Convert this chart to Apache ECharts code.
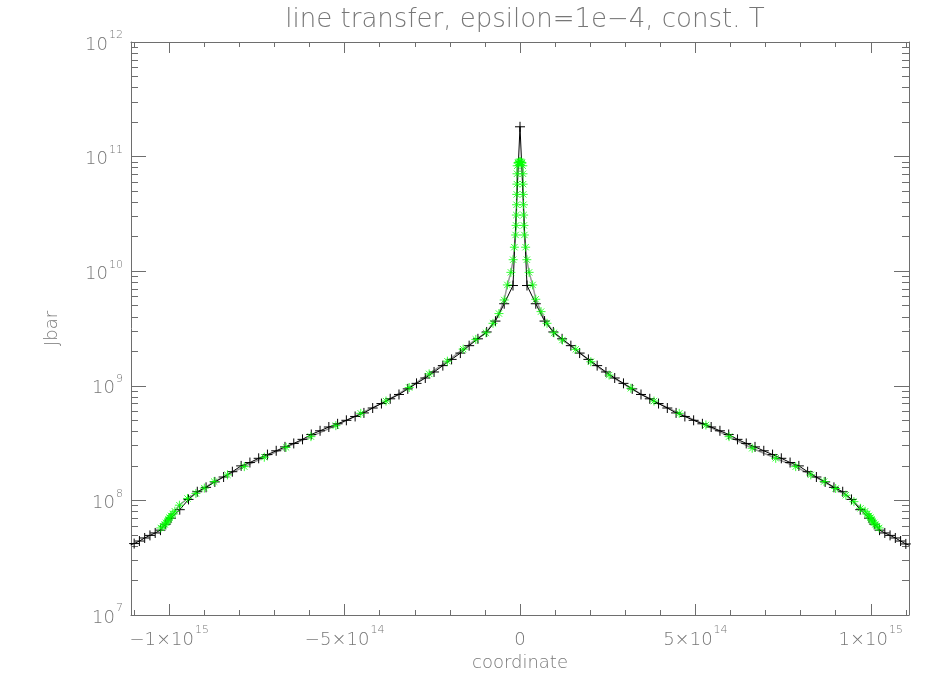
<!DOCTYPE html>
<html>
<head>
<meta charset="utf-8">
<script src="https://cdn.jsdelivr.net/npm/echarts@6/dist/echarts.min.js"></script>
<style>
  html, body { margin: 0; padding: 0; background: #fff; }
  #chart { width: 950px; height: 700px; }
</style>
</head>
<body>
<div id="chart"></div>
<script>
// black '+' curve
var blackX = [
  -11.1e14, -11.0e14, -10.85e14, -10.7e14, -10.55e14, -10.4e14, -10.25e14, -10.1e14,
  -9.95e14, -9.7e14, -9.45e14, -9.2e14, -8.95e14, -8.7e14, -8.45e14, -8.2e14,
  -7.95e14, -7.7e14, -7.45e14, -7.2e14, -6.95e14, -6.7e14, -6.45e14, -6.2e14,
  -5.95e14, -5.7e14, -5.45e14, -5.2e14, -4.95e14, -4.7e14, -4.45e14, -4.2e14,
  -3.95e14, -3.7e14, -3.45e14, -3.2e14, -2.95e14, -2.7e14, -2.45e14, -2.2e14,
  -1.95e14, -1.7e14, -1.45e14, -1.2e14, -0.95e14, -0.7e14, -0.45e14, -0.2e14,
  0,
  0.2e14, 0.45e14, 0.7e14, 0.95e14, 1.2e14, 1.45e14, 1.7e14, 1.95e14,
  2.2e14, 2.45e14, 2.7e14, 2.95e14, 3.2e14, 3.45e14, 3.7e14, 3.95e14,
  4.2e14, 4.45e14, 4.7e14, 4.95e14, 5.2e14, 5.45e14, 5.7e14, 5.95e14,
  6.2e14, 6.45e14, 6.7e14, 6.95e14, 7.2e14, 7.45e14, 7.7e14, 7.95e14,
  8.2e14, 8.45e14, 8.7e14, 8.95e14, 9.2e14, 9.45e14, 9.7e14, 9.95e14,
  10.1e14, 10.25e14, 10.4e14, 10.55e14, 10.7e14, 10.85e14, 11.0e14, 11.1e14
];
var blackY = [
  4.1e7, 4.2e7, 4.42e7, 4.7e7, 4.95e7, 5.2e7, 5.5e7, 6.2e7,
  7.0e7, 8.3e7, 1.02e8, 1.19e8, 1.3e8, 1.45e8, 1.6e8, 1.78e8,
  2.0e8, 2.14e8, 2.33e8, 2.51e8, 2.71e8, 2.93e8, 3.14e8, 3.41e8,
  3.76e8, 4.05e8, 4.37e8, 4.66e8, 5.0e8, 5.4e8, 5.8e8, 6.4e8,
  7.0e8, 7.7e8, 8.4e8, 9.4e8, 1.05e9, 1.17e9, 1.32e9, 1.5e9,
  1.7e9, 1.93e9, 2.24e9, 2.57e9, 2.95e9, 3.67e9, 5.2e9, 7.5e9,
  1.82e11,
  7.5e9, 5.2e9, 3.67e9, 2.95e9, 2.57e9, 2.24e9, 1.93e9, 1.7e9,
  1.5e9, 1.32e9, 1.17e9, 1.05e9, 9.4e8, 8.4e8, 7.7e8, 7.0e8,
  6.4e8, 5.8e8, 5.4e8, 5.0e8, 4.66e8, 4.37e8, 4.05e8, 3.76e8,
  3.41e8, 3.14e8, 2.93e8, 2.71e8, 2.51e8, 2.33e8, 2.14e8, 2.0e8,
  1.78e8, 1.6e8, 1.45e8, 1.3e8, 1.19e8, 1.02e8, 8.3e7, 7.0e7,
  6.2e7, 5.5e7, 5.2e7, 4.95e7, 4.7e7, 4.42e7, 4.17e7, 4.06e7
];

// green '*' points (joined by a grey line)
var greenX = [
  -10.24e14, -10.18e14, -10.13e14, -10.09e14, -10.05e14, -10.02e14, -9.99e14, -9.95e14,
  -9.90e14, -9.84e14, -9.71e14, -9.48e14, -9.24e14, -9.00e14, -8.72e14, -8.34e14,
  -7.86e14, -7.29e14, -6.67e14, -5.96e14, -5.25e14, -4.54e14, -3.82e14, -3.16e14,
  -2.59e14, -2.07e14, -1.62e14, -1.26e14, -0.97e14, -0.77e14, -0.60e14, -0.45e14,
  -0.36e14, -0.26e14, -0.195e14, -0.16e14, -0.125e14, -0.112e14, -0.104e14, -0.098e14,
  -0.093e14, -0.089e14, -0.085e14, -0.08e14, -0.06e14, -0.04e14, -0.02e14,
  0,
  0.02e14, 0.04e14, 0.06e14, 0.08e14, 0.085e14, 0.089e14, 0.093e14, 0.098e14,
  0.104e14, 0.112e14, 0.125e14, 0.16e14, 0.195e14, 0.26e14, 0.36e14, 0.45e14,
  0.60e14, 0.77e14, 0.97e14, 1.21e14, 1.59e14, 2.02e14, 2.54e14, 3.16e14,
  3.82e14, 4.54e14, 5.30e14, 5.96e14, 6.62e14, 7.29e14, 7.86e14, 8.29e14,
  8.67e14, 9.00e14, 9.29e14, 9.52e14, 9.71e14, 9.84e14, 9.90e14, 9.95e14,
  9.99e14, 10.02e14, 10.05e14, 10.09e14, 10.13e14, 10.18e14, 10.24e14
];
var greenY = [
  5.75e7, 5.96e7, 6.17e7, 6.38e7, 6.61e7, 6.84e7, 7.08e7, 7.33e7,
  7.59e7, 8.04e7, 9.08e7, 1.04e8, 1.15e8, 1.28e8, 1.46e8, 1.67e8,
  1.97e8, 2.38e8, 2.90e8, 3.60e8, 4.49e8, 5.75e8, 7.36e8, 9.66e8,
  1.27e9, 1.64e9, 2.09e9, 2.54e9, 2.90e9, 3.51e9, 4.27e9, 5.61e9,
  7.59e9, 9.77e9, 1.26e10, 1.62e10, 2.07e10, 2.51e10, 3.09e10, 3.80e10,
  4.68e10, 5.75e10, 7.08e10, 8.32e10, 8.81e10, 8.9e10, 9.0e10,
  9.0e10,
  9.0e10, 8.9e10, 8.81e10, 8.32e10, 7.08e10, 5.75e10, 4.68e10, 3.80e10,
  3.09e10, 2.51e10, 2.07e10, 1.62e10, 1.26e10, 9.77e9, 7.59e9, 5.69e9,
  4.44e9, 3.51e9, 2.90e9, 2.51e9, 2.08e9, 1.62e9, 1.24e9, 9.51e8,
  7.36e8, 5.75e8, 4.55e8, 3.60e8, 2.85e8, 2.33e8, 1.97e8, 1.67e8,
  1.46e8, 1.27e8, 1.11e8, 9.75e7, 8.53e7, 8.04e7, 7.59e7, 7.33e7,
  7.08e7, 6.84e7, 6.61e7, 6.38e7, 6.17e7, 5.96e7, 5.75e7
];

// ticks
var xMajor = [-1e15, -5e14, 0, 5e14, 1e15];
var xMinor = [-1.1e15, -9e14, -8e14, -7e14, -6e14, -4e14, -3e14, -2e14, -1e14,
  1e14, 2e14, 3e14, 4e14, 6e14, 7e14, 8e14, 9e14, 1.1e15];
var yMajor = [1e7, 1e8, 1e9, 1e10, 1e11, 1e12];
var yMinor = [
  2e7, 3e7, 4e7, 5e7, 6e7, 7e7, 8e7, 9e7,
  2e8, 3e8, 4e8, 5e8, 6e8, 7e8, 8e8, 9e8,
  2e9, 3e9, 4e9, 5e9, 6e9, 7e9, 8e9, 9e9,
  2e10, 3e10, 4e10, 5e10, 6e10, 7e10, 8e10, 9e10,
  2e11, 3e11, 4e11, 5e11, 6e11, 7e11, 8e11, 9e11
];

var textColor = '#777777';
var axisColor = '#6e6e6e';
var fontFamily = 'DejaVu Sans';
var xMin = -1.109e15, xMax = 1.109e15;

var rich = {
  b: { fontSize: 18, color: textColor, fontFamily: fontFamily, fontWeight: 200, lineHeight: 24, verticalAlign: 'bottom' },
  s: { fontSize: 11, color: textColor, fontFamily: fontFamily, fontWeight: 200, lineHeight: 24, verticalAlign: 'top', padding: [0, 0, 0, 1] }
};

function xLabel(v) {
  if (v === 0) return '{b|0}';
  var e = Math.floor(Math.log10(Math.abs(v)) + 1e-9);
  var m = Math.round(v / Math.pow(10, e));
  return '{b|' + (m < 0 ? '\u2212' : '') + Math.abs(m) + '\u00d710}{s|' + e + '}';
}
function yLabel(v) {
  return '{b|10}{s|' + Math.round(Math.log10(v)) + '}';
}

function xAxisOf(pos, ticks, len, withLabel, withLine) {
  return {
    type: 'value', position: pos, min: xMin, max: xMax,
    splitLine: { show: false },
    axisLine: { show: withLine, onZero: false, lineStyle: { color: axisColor, width: 1 } },
    axisTick: { show: true, inside: true, length: len, customValues: ticks, lineStyle: { color: axisColor } },
    axisLabel: withLabel ? { show: true, customValues: ticks, formatter: xLabel, rich: rich, margin: 10 } : { show: false },
    name: withLabel ? 'coordinate' : '',
    nameLocation: 'middle', nameGap: 38,
    nameTextStyle: { color: textColor, fontSize: 18, fontWeight: 200, fontFamily: fontFamily }
  };
}
function yAxisOf(pos, ticks, len, withLabel, withLine) {
  return {
    type: 'log', logBase: 10, position: pos, min: 1e7, max: 1e12,
    splitLine: { show: false },
    minorTick: { show: false },
    axisLine: { show: withLine, onZero: false, lineStyle: { color: axisColor, width: 1 } },
    axisTick: { show: true, inside: true, length: len, customValues: ticks, lineStyle: { color: axisColor } },
    axisLabel: withLabel ? { show: true, customValues: ticks, formatter: yLabel, rich: rich, margin: 8 } : { show: false },
    name: withLabel ? 'Jbar' : '',
    nameLocation: 'middle', nameGap: 70,
    nameTextStyle: { color: textColor, fontSize: 18, fontWeight: 200, fontFamily: fontFamily }
  };
}

function pairs(xs, ys) {
  var out = [];
  for (var i = 0; i < xs.length; i++) out.push([xs[i], ys[i]]);
  return out;
}

var plusPath = 'path://M0,5L10,5M5,0L5,10';
var starPath = 'path://M5,0L5,10M0,5L10,5M1.5,1.5L8.5,8.5M8.5,1.5L1.5,8.5';

var option = {
  animation: false,
  backgroundColor: '#ffffff',
  title: {
    text: 'line transfer, epsilon=1e\u22124, const. T',
    left: 520, top: 2, textAlign: 'center',
    textStyle: { color: textColor, fontSize: 26, fontWeight: 200, fontFamily: fontFamily }
  },
  grid: { left: 131, right: 41, top: 42, bottom: 85, containLabel: false },
  xAxis: [
    xAxisOf('bottom', xMajor, 11, true, true),
    xAxisOf('bottom', xMinor, 5, false, false),
    xAxisOf('top', xMajor, 11, false, true),
    xAxisOf('top', xMinor, 5, false, false)
  ],
  yAxis: [
    yAxisOf('left', yMajor, 15, true, true),
    yAxisOf('left', yMinor, 7, false, false),
    yAxisOf('right', yMajor, 15, false, true),
    yAxisOf('right', yMinor, 7, false, false)
  ],
  series: [
    {
      name: 'grey', type: 'line', xAxisIndex: 0, yAxisIndex: 0,
      data: pairs(greenX, greenY), showSymbol: false, silent: true,
      lineStyle: { color: '#9a9a9a', width: 1.5 }, z: 1
    },
    {
      name: 'black', type: 'line', xAxisIndex: 0, yAxisIndex: 0,
      data: pairs(blackX, blackY), symbol: plusPath, symbolSize: 10,
      showSymbol: true, showAllSymbol: true, silent: true,
      itemStyle: { color: '#000', borderColor: '#000', borderWidth: 1 },
      lineStyle: { color: '#000', width: 1 }, z: 2
    },
    {
      name: 'green', type: 'scatter', xAxisIndex: 0, yAxisIndex: 0,
      data: pairs(greenX, greenY), symbol: starPath, symbolSize: 9, silent: true,
      itemStyle: { color: '#00ff00', borderColor: '#00ff00', borderWidth: 1 }, z: 3
    }
  ]
};

var chart = echarts.init(document.getElementById('chart'));
chart.setOption(option);
</script>
</body>
</html>
